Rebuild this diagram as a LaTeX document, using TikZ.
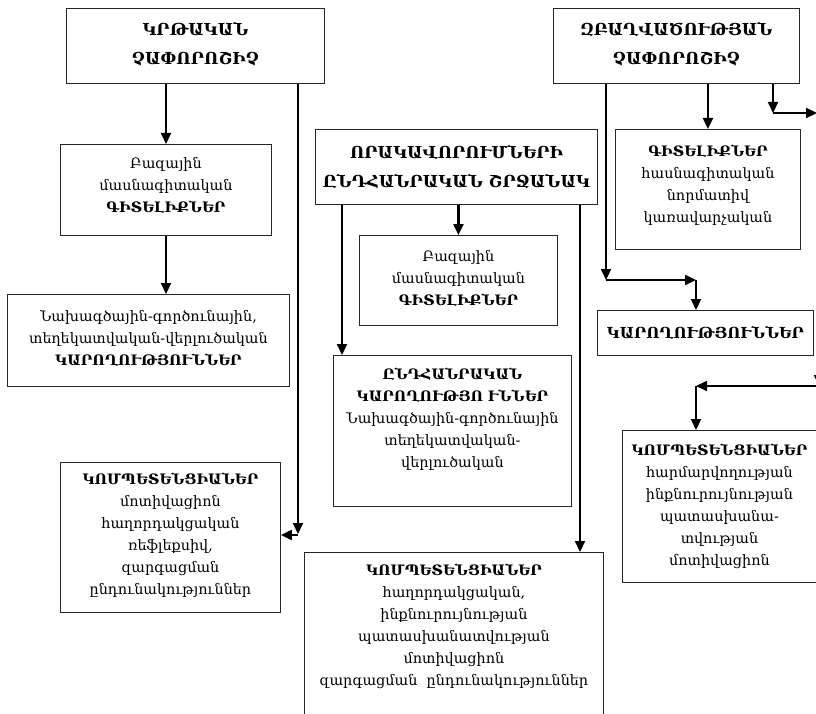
\documentclass[tikz,border=0pt]{standalone}
\usepackage{fontspec}
\setmainfont{DejaVu Serif}
\usetikzlibrary{arrows.meta,calc}
\tikzset{
  box/.style={draw=black!85, line width=0.9pt, inner sep=0pt, anchor=north west},
  txt/.style={align=center, inner sep=0pt, font=\fontsize{14.4}{22}\selectfont},
  ttl/.style={align=center, inner sep=0pt, font=\bfseries\fontsize{16.5}{29}\selectfont},
  ttls/.style={align=center, inner sep=0pt, font=\bfseries\fontsize{15.2}{22}\selectfont},
  arr/.style={line width=2.1pt, -{Triangle[length=11pt,width=10pt]}},
}
\newcommand\bx[6]{\node[box, minimum width=#4pt, minimum height=#5pt] (#1) at (#2,#3) {#6};}
\begin{document}
\begin{tikzpicture}[x=1pt,y=-1pt]
\useasboundingbox (0,0) rectangle (816,714);
\clip (0,0) rectangle (816,714);
% boxes
\bx{A}{66}{8}{258}{75}{}
\bx{B}{60}{144}{211}{91}{}
\bx{C}{7}{294}{282}{92}{}
\bx{D}{60}{462}{220}{150}{}
\bx{E}{315}{129}{282}{75}{}
\bx{F}{359}{235}{198}{90}{}
\bx{G}{333}{355}{238}{151}{}
\bx{H}{304}{552}{299}{175}{}
\bx{I}{553}{8}{246}{75}{}
\bx{J}{615}{129}{185}{120}{}
\bx{K}{597}{310}{216}{45}{}
\bx{L}{622}{430}{194}{152}{}
% texts
\node[ttl] (At) at ([yshift=2pt]A.center) {ԿՐԹԱԿԱՆ\\ՉԱՓՈՐՈՇԻՉ};
\node[ttl] (Et) at (E.center) {ՈՐԱԿԱՎՈՐՈՒՄՆԵՐԻ\\ԸՆԴՀԱՆՐԱԿԱՆ ՇՐՋԱՆԱԿ};
\node[ttl] (It) at ([yshift=2pt]I.center) {ԶԲԱՂՎԱԾՈՒԹՅԱՆ\\ՉԱՓՈՐՈՇԻՉ};
\node[ttls] (Kt) at (K.center) {ԿԱՐՈՂՈՒԹՅՈՒՆՆԵՐ};
\node[txt] (Bt) at ([yshift=4pt]B.center) {Բազային\\մասնագիտական\\\textbf{ԳԻՏԵԼԻՔՆԵՐ}};
\node[txt] (Ft) at ([yshift=2pt]F.center) {Բազային\\մասնագիտական\\\textbf{ԳԻՏԵԼԻՔՆԵՐ}};
\node[txt] (Ct) at ([yshift=2pt]C.center) {Նախագծային-գործունային,\\տեղեկատվական-վերլուծական\\\textbf{ԿԱՐՈՂՈՒԹՅՈՒՆՆԵՐ}};
\node[txt] (Dt) at ([yshift=2pt]D.center) {\textbf{ԿՈՄՊԵՏԵՆՑԻԱՆԵՐ}\\մոտիվացիոն\\հաղորդակցական\\ռեֆլեքսիվ,\\զարգացման\\ընդունակություններ};
\node[txt, anchor=north] (Gt) at ([yshift=-13pt]G.north) {\textbf{ԸՆԴՀԱՆՐԱԿԱՆ}\\\textbf{ԿԱՐՈՂՈՒԹՅՈ ՒՆՆԵՐ}\\Նախագծային-գործունային\\տեղեկատվական-\\վերլուծական};
\node[txt, anchor=north] (Ht) at ([yshift=-12pt]H.north) {\textbf{ԿՈՄՊԵՏԵՆՑԻԱՆԵՐ}\\հաղորդակցական,\\ինքնուրույնության\\պատասխանատվության\\մոտիվացիոն\\զարգացման\ \ ընդունակություններ};
\node[txt] (Jt) at ([yshift=4pt]J.center) {\textbf{ԳԻՏԵԼԻՔՆԵՐ}\\հասնագիտական\\նորմատիվ\\կառավարչական};
\node[txt] (Lt) at (L.center) {\textbf{ԿՈՄՊԵՏԵՆՑԻԱՆԵՐ}\\հարմարվողության\\ինքնուրույնության\\պատասխանա-\\տվության\\մոտիվացիոն};
% helper coordinates
\coordinate (a1) at (A.south -| 166,0);
\coordinate (a2) at (A.south -| 298,0);
\coordinate (a2c) at (298,535);
\coordinate (e1) at (E.south -| 342,0);
\coordinate (e3) at (E.south -| 580,0);
\coordinate (i1) at (I.south -| 606,0);
\coordinate (i1c) at (606,280);
\coordinate (i1d) at (696,280);
\coordinate (i3) at (I.south -| 773,0);
\coordinate (i3c) at (773,113);
\coordinate (i3e) at (817,113);
\coordinate (r0) at (819,340);
\coordinate (r1) at (819,386);
\coordinate (r2) at (696,386);
% connectors
\draw[arr] (a1) -- (B.north -| a1);
\draw[arr] (B.south -| a1) -- (C.north -| a1);
\draw[arr] (a2) -- ([yshift=1pt]a2c);
\draw[arr] (a2c) -- (D.east |- a2c);
\draw[arr] (E.south -| F.north) -- (F.north);
\draw[arr] (e1) -- (G.north -| e1);
\draw[arr] (e3) -- (H.north -| e3);
\draw[arr] (I.south -| J.north) -- (J.north);
\draw[arr] (i1) -- (i1c);
\draw[arr] (i1c) -- (i1d);
\draw[arr] (i1d) -- (K.north -| i1d);
\draw[arr] (i3) -- (i3c);
\draw[arr] (i3c) -- (i3e);
\draw[arr] (r0) -- (r1);
\draw[arr] (r1) -- (r2);
\draw[arr] (r2) -- (L.north -| r2);
\end{tikzpicture}
\end{document}
